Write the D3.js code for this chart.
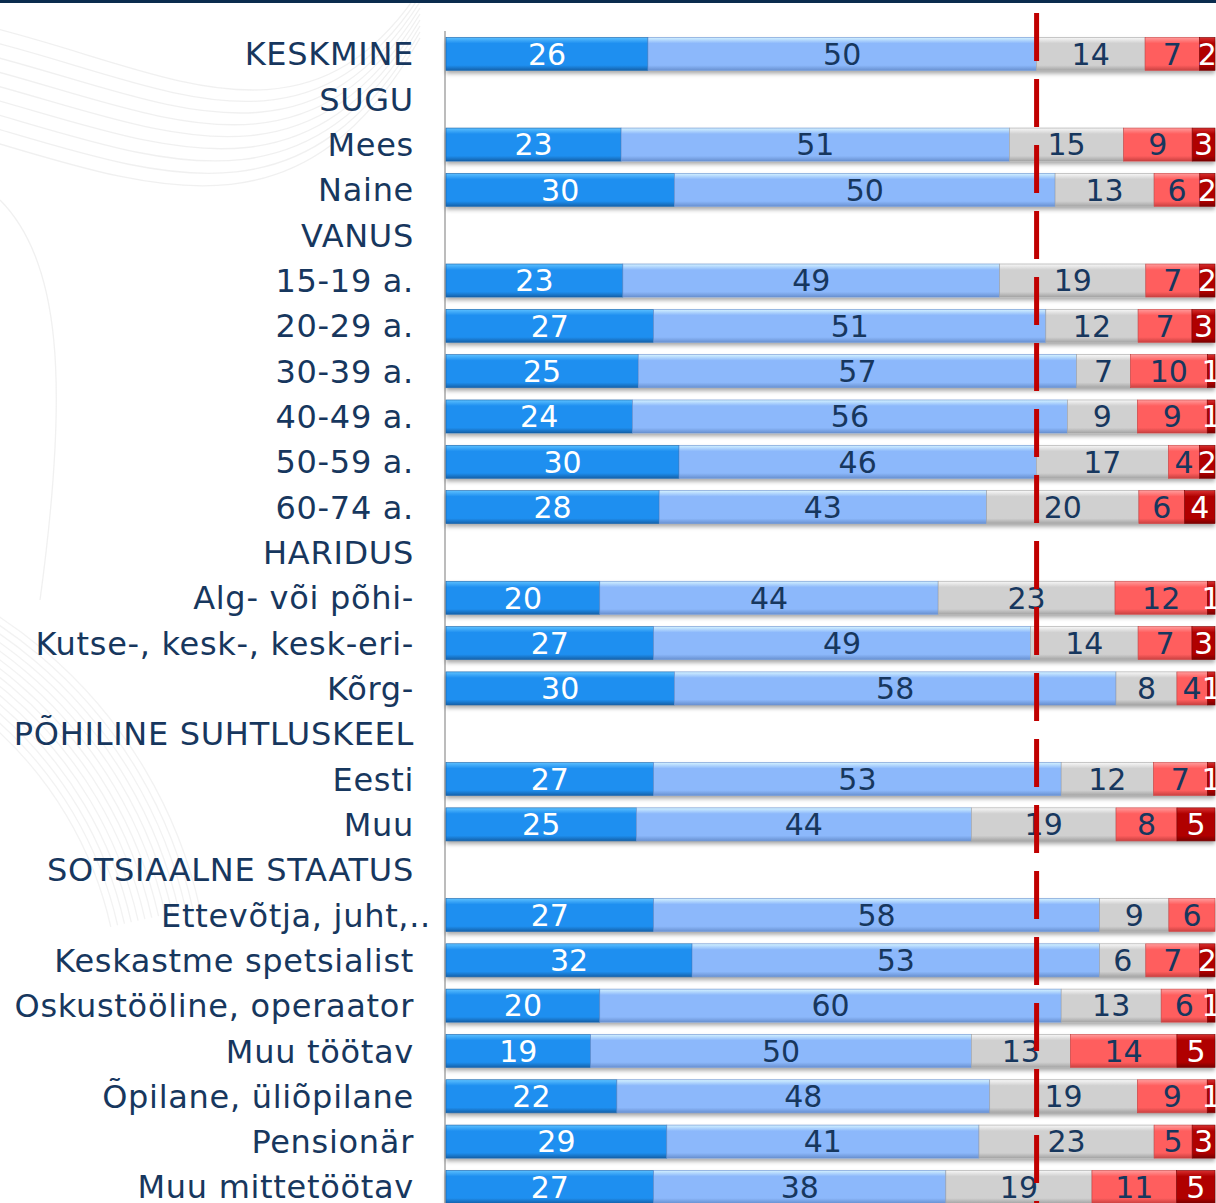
<!DOCTYPE html>
<html>
<head>
<meta charset="utf-8">
<script src="https://cdn.jsdelivr.net/npm/d3@7"></script>
<style>
  body { margin: 0; background: #fff; }
  svg { display: block; }
</style>
</head>
<body>
<svg id="chart" width="1216" height="1203"></svg>
<script>
// row labels (group headers carry no values)
const categories = ["KESKMINE", "SUGU", "Mees", "Naine", "VANUS", "15-19 a.", "20-29 a.", "30-39 a.",
  "40-49 a.", "50-59 a.", "60-74 a.", "HARIDUS", "Alg- või põhi-", "Kutse-, kesk-, kesk-eri-", "Kõrg-",
  "PÕHILINE SUHTLUSKEEL", "Eesti", "Muu", "SOTSIAALNE STAATUS", "Ettevõtja, juht,..",
  "Keskastme spetsialist", "Oskustööline, operaator", "Muu töötav", "Õpilane, üliõpilane",
  "Pensionär", "Muu mittetöötav"];

const s1 = [26, null, 23, 30, null, 23, 27, 25, 24, 30, 28, null, 20, 27, 30, null, 27, 25, null, 27, 32, 20, 19, 22, 29, 27];
const s2 = [50, null, 51, 50, null, 49, 51, 57, 56, 46, 43, null, 44, 49, 58, null, 53, 44, null, 58, 53, 60, 50, 48, 41, 38];
const s3 = [14, null, 15, 13, null, 19, 12, 7, 9, 17, 20, null, 23, 14, 8, null, 12, 19, null, 9, 6, 13, 13, 19, 23, 19];
const s4 = [7, null, 9, 6, null, 7, 7, 10, 9, 4, 6, null, 12, 7, 4, null, 7, 8, null, 6, 7, 6, 14, 9, 5, 11];
const s5 = [2, null, 3, 2, null, 2, 3, 1, 1, 2, 4, null, 1, 3, 1, null, 1, 5, null, 0, 2, 1, 5, 1, 3, 5];

const refValue = 76.8; // dashed reference line, share of row

const seriesKeys = ["s1", "s2", "s3", "s4", "s5"];
const fills = [
  {top: "#5cc0ff", mid: "#1e8ff0", bot: "#1460a8", text: "#ffffff"},
  {top: "#d4f2ff", mid: "#8cb8fb", bot: "#6890d0", text: "#17375e"},
  {top: "#f8f8f8", mid: "#d0d0d0", bot: "#a4a4a4", text: "#17375e"},
  {top: "#ff9c9c", mid: "#ff5e5e", bot: "#c84040", text: "#17375e"},
  {top: "#d83030", mid: "#b00000", bot: "#780000", text: "#ffffff"}
];

const svg = d3.select("#chart");

// faint background swirls
const bg = svg.append("g").attr("fill", "none").attr("stroke", "#ececec").attr("stroke-width", 1.3);
for (let i = 0; i < 9; i++) {
  bg.append("path")
    .attr("d", "M" + (-40) + "," + (20 + i * 14) + " C 150," + (60 + i * 16) + " 300," + (170 + i * 10) + " 420," + (-10 + i * 6))
    .attr("opacity", 0.8);
}
for (let i = 0; i < 14; i++) {
  const r = 380 + i * 7;
  bg.append("path")
    .attr("d", d3.arc()({innerRadius: r, outerRadius: r, startAngle: 0.05, endAngle: 1.35}))
    .attr("transform", "translate(" + (-260) + "," + (1010) + ")")
    .attr("opacity", 0.7);
}
bg.append("path").attr("d", "M0,200 C 60,260 70,380 40,600").attr("opacity", 0.8);

// top border
svg.append("rect").attr("x", 0).attr("y", 0).attr("width", 1216).attr("height", 3).attr("fill", "#0b2c4e");

const defs = svg.append("defs");
fills.forEach((f, i) => {
  const g = defs.append("linearGradient").attr("id", "g" + i)
    .attr("x1", 0).attr("y1", 0).attr("x2", 0).attr("y2", 1);
  g.append("stop").attr("offset", "0%").attr("stop-color", f.top);
  g.append("stop").attr("offset", "18%").attr("stop-color", f.mid);
  g.append("stop").attr("offset", "84%").attr("stop-color", f.mid);
  g.append("stop").attr("offset", "100%").attr("stop-color", f.bot);
});
const sh = defs.append("filter").attr("id", "shadow").attr("x", "-5%").attr("y", "-20%").attr("width", "110%").attr("height", "160%");
sh.append("feDropShadow").attr("dx", 0).attr("dy", 3).attr("stdDeviation", 2)
  .attr("flood-color", "#000").attr("flood-opacity", 0.35);

const rows = categories.map((c, i) => ({
  label: c, s1: s1[i], s2: s2[i], s3: s3[i], s4: s4[i], s5: s5[i],
  header: s1[i] === null
}));
const barRows = rows.filter(d => !d.header).map(d => {
  const total = d3.sum(seriesKeys, k => d[k]);
  const o = {label: d.label};
  seriesKeys.forEach(k => o[k] = d[k] / total * 100);
  o.raw = d;
  return o;
});

const x = d3.scaleLinear().domain([0, 100]).range([446, 1215]);
const y = d3.scaleBand()
  .domain(categories)
  .range([31.3, 1209.6])
  .paddingInner(0.27)
  .paddingOuter(0.135);

const stacked = d3.stack().keys(seriesKeys)(barRows);

// axis line
svg.append("line").attr("x1", 445).attr("x2", 445).attr("y1", 31).attr("y2", 1203)
  .attr("stroke", "#a6a6a6").attr("stroke-width", 1.5);

const barG = svg.append("g");
barRows.forEach(r => {
  barG.append("rect")
    .attr("x", x(0)).attr("y", y(r.label))
    .attr("width", x(100) - x(0)).attr("height", y.bandwidth())
    .attr("fill", "#fff").attr("filter", "url(#shadow)");
});

stacked.forEach((layer, i) => {
  const g = barG.append("g");
  g.selectAll("rect").data(layer).enter().append("rect")
    .attr("x", d => x(d[0]))
    .attr("y", d => y(d.data.label))
    .attr("width", d => Math.max(0, x(d[1]) - x(d[0])))
    .attr("height", y.bandwidth())
    .attr("fill", "url(#g" + i + ")")
    .attr("stroke", fills[i].bot)
    .attr("stroke-width", 0.6);
});

// value labels
stacked.forEach((layer, i) => {
  svg.append("g").selectAll("text").data(layer.filter(d => d.data.raw[seriesKeys[i]] > 0)).enter()
    .append("text")
    .attr("x", d => (x(d[0]) + x(d[1])) / 2)
    .attr("y", d => y(d.data.label) + y.bandwidth() / 2)
    .attr("dy", "0.36em")
    .attr("text-anchor", "middle")
    .attr("font-family", "DejaVu Sans, Verdana, sans-serif")
    .attr("font-size", "30px")
    .attr("fill", fills[i].text)
    .text(d => d.data.raw[seriesKeys[i]]);
});

// category labels
svg.append("g").selectAll("text").data(categories).enter()
  .append("text")
  .attr("x", d => d.endsWith("..") ? 431 : 414)
  .attr("y", d => y(d) + y.bandwidth() / 2)
  .attr("dy", "0.36em")
  .attr("text-anchor", "end")
  .attr("font-family", "DejaVu Sans, Verdana, sans-serif")
  .attr("font-size", "32px")
  .attr("letter-spacing", "0.7px")
  .attr("fill", "#17375e")
  .text(d => d);

// reference line
svg.append("line")
  .attr("x1", x(refValue)).attr("x2", x(refValue))
  .attr("y1", 13).attr("y2", 1203)
  .attr("stroke", "#c00000").attr("stroke-width", 5)
  .attr("stroke-dasharray", "48,18");
</script>
</body>
</html>
